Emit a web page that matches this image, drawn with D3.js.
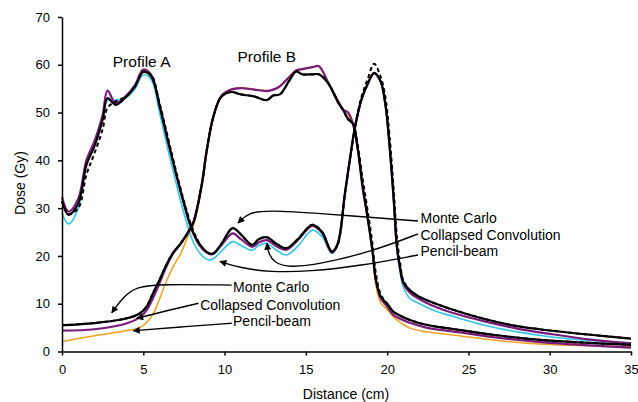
<!DOCTYPE html>
<html><head><meta charset="utf-8">
<script src="https://cdn.jsdelivr.net/npm/d3@7"></script>
<style>
body{margin:0;background:#fff;}
svg text{font-family:"Liberation Sans",Arial,sans-serif;fill:#000;}
</style></head>
<body><svg id="c" width="638" height="402"></svg>
<script>
// ---------- data ----------
const xTicks = [0,5,10,15,20,25,30,35];
const yTicks = [0,10,20,30,40,50,60,70];

// Profile A (distance in cm)
const xA      = [0,0.4,1,1.5,2,2.5,2.8,3.3,4,4.5,5,5.5,6,6.5,7,7.5,8,8.5,9,9.3,9.8,10.5,11,11.7,12.1,12.6,13.2,13.8,14.5,15.4,16,16.6,16.95,17.4,17.7,18.0,18.4,18.8,19.2,19.6,19.9,20.15,20.4,20.6,20.8,21.0,21.4,22,23,24,26,28,30,32.5,35];
const mcA     = [31.5,28.6,31,39,43,48.5,53,51.6,53.5,55.5,58.5,57.5,51.5,44.3,37.4,31,25.5,22.3,20.6,20.5,22.5,25.8,24.5,22.3,23.5,23.9,22.5,21.6,23.5,26.5,25,20.9,22.5,33,40,46.5,52.5,56,58.3,56.5,51.5,43,32,22,17.5,14.5,12.8,11.4,10,8.8,6.8,5.3,4.4,3.5,2.7];
const ccA     = [32.3,29.3,32,40,44,49.5,54.6,52,53.7,55.8,59,57.8,51.5,44.3,37.4,31,25.3,22,20.5,20.4,22.2,24.7,23.5,21.9,22.8,23.3,22,21.3,23.3,26.3,24.8,20.7,22.3,33,40,46.5,52.5,56,58.2,56.5,51.5,43,32,22,17.3,14.2,12.3,10.9,9.3,8.1,6.3,4.8,3.7,2.5,1.7];
const pbA     = [29,26.7,30,39.5,43.5,49,52.6,52.6,53.3,55,57.9,56.8,50,42.5,35.5,29,23.5,20.5,19.2,19.4,21,23,22.2,21.2,22.2,22.6,21.2,20.2,22,25.4,24,20.5,22.3,33,40,46.5,52.5,56,58.2,56.5,51.5,43,32,21.5,16.5,13.5,11.1,10,8.4,7.4,5.5,4.1,3.1,2.3,1.8];
const refA    = [31.5,28.8,30,37,41.5,46.5,51,52.3,53.5,55.7,58.6,57.8,52,45,38,31.5,26,22.4,20.6,20.5,22.5,25.8,24.5,22.3,23.5,23.9,22.5,21.6,23.5,26.5,25,20.9,22.3,33,40,46.5,53,57,60.2,57.5,53,45,34,24,18.5,14.8,12.9,11.4,10,8.8,6.8,5.3,4.4,3.5,2.7];

// Profile B
const xB      = [0,2,4,4.8,5.2,5.6,6.0,6.4,6.8,7.3,7.8,8.1,8.6,8.9,9.3,9.8,10.4,11,11.8,12.6,13,13.4,14,14.4,14.8,15.4,15.8,16.4,17.0,17.3,17.6,17.9,18.2,18.5,18.8,19.1,19.3,19.6,20.0,20.4,21.4,22.4,24.5,26.5,29.6,35];
const mcB     = [5.5,5.95,6.95,8.0,9.4,12.2,15.0,18.0,20.5,22.6,25.2,27.2,35,42,49,53.3,54.3,53.8,53.4,52.6,53.6,53.8,56.8,58.6,58,58,58,56,52,50.5,48.6,47.6,42.2,34.5,28,21,15,11.5,10.0,8.3,6.6,5.6,4.5,3.5,2.4,1.4];
const ccB     = [4.35,4.65,5.9,7.2,8.6,11.2,14.3,17.6,20.3,22.6,25.2,27.2,35,42,49,53.5,54.8,55.1,54.8,54.5,54.8,55.5,57.5,58.8,59.1,59.5,59.7,56.1,52.3,50.6,50.0,47.6,42.2,34,28,21,15.3,11.2,9.4,7.6,6.0,5.0,4.0,3.0,1.9,0.8];
const pbB     = [2.1,3.3,4.4,5.0,6.0,7.8,11.0,14.5,17.5,20.5,24.5,26.5,34.5,42,49,53.5,54.9,55.2,54.9,54.6,54.9,55.6,57.6,58.9,59.2,59.5,59.6,56.1,52.2,50.5,49.3,47.6,42.2,34,28,21,14,10.2,8.8,7.2,4.9,4.15,3.25,2.4,1.5,1.0];
const refB    = [5.5,5.95,6.95,8.0,9.4,12.2,15.0,18.0,20.5,22.6,25.2,27.2,35,42,49,53.3,54.3,53.8,53.4,52.6,53.6,53.8,56.8,58.6,58,58,58,56,52,50.5,48.6,47.8,43,36,29.5,22.5,16.5,12,10.0,8.3,6.6,5.6,4.5,3.5,2.4,1.4];

// Annotations: label, text anchor (cm, Gy), arrow path (cm, Gy)
const noteLabels = ["Monte Carlo","Collapsed Convolution","Pencil-beam","Monte Carlo","Collapsed Convolution","Pencil-beam"];
const noteAnchors = [[22.05,26.9],[22.05,23.3],[22.05,19.9],[10.52,12.4],[8.5,8.6],[10.52,5.25]];
const notePaths = [
  [[21.9,27.3],[15.87,28.9],[12.6,29.6],[11.44,29.0],[10.83,26.9]],
  [[21.9,24.6],[18.95,20.8],[15.75,18.2],[14.02,17.6],[13.04,18.5],[12.67,20.8],[12.61,22.65]],
  [[21.9,20.2],[18.33,17.9],[15.25,16.75],[12.8,16.6],[10.95,17.5],[9.72,18.84]],
  [[10.44,13.9],[6.03,14.1],[4.6,13.56],[3.77,11.47],[3.06,8.1]],
  [[8.39,10.09],[6.52,8.6],[4.6,6.95]],
  [[10.44,5.9],[7.26,5.13],[4.39,4.35]]
];
const profileLabels = ["Profile A","Profile B"];
const profileAnchors = [[4.9,59.5],[12.6,60.5]];

// ---------- drawing ----------
const svg = d3.select("#c");
const x = d3.scaleLinear().domain([0,35]).range([62,631]);
const y = d3.scaleLinear().domain([0,70]).range([351.5,17]);

svg.append("defs").append("marker")
  .attr("id","ah").attr("viewBox","0 0 10 10").attr("refX",9).attr("refY",5)
  .attr("markerWidth",9).attr("markerHeight",7).attr("markerUnits","userSpaceOnUse")
  .attr("orient","auto")
  .append("path").attr("d","M0,0L10,5L0,10z").attr("fill","#000");

const line = d3.line().x(d=>x(d[0])).y(d=>y(d[1])).curve(d3.curveCatmullRom.alpha(0.5));
const series = [
  {xs:xB, ys:pbB, color:"#f0a020", w:1.5},
  {xs:xA, ys:pbA, color:"#30c4ea", w:1.6},
  {xs:xA, ys:ccA, color:"#7a1a7a", w:2.2},
  {xs:xB, ys:ccB, color:"#7a1a7a", w:2.2},
  {xs:xA, ys:mcA, color:"#000", w:2.2},
  {xs:xB, ys:mcB, color:"#000", w:2.2},
  {xs:xA, ys:refA, color:"#000", w:2.0, dash:"4,3"},
  {xs:xB, ys:refB, color:"#000", w:2.0, dash:"4,3"}
];
series.forEach(s=>{
  svg.append("path").attr("d", line(s.xs.map((v,i)=>[v,s.ys[i]])))
    .attr("fill","none").attr("stroke",s.color).attr("stroke-width",s.w)
    .attr("stroke-dasharray",s.dash||null).attr("stroke-linejoin","round");
});

// axes
const xAxis = d3.axisBottom(x).tickValues(xTicks).tickSize(4).tickSizeOuter(0).tickPadding(9);
const yAxis = d3.axisLeft(y).tickValues(yTicks).tickSize(4).tickSizeOuter(0).tickPadding(8);
const gx = svg.append("g").attr("transform","translate(0,351.5)").call(xAxis);
const gy = svg.append("g").attr("transform","translate(62,0)").call(yAxis);
[gx,gy].forEach(g=>{
  g.selectAll("path").attr("stroke","#000").attr("stroke-width",1.5);
  g.selectAll("line").attr("stroke","#000").attr("stroke-width",1.5);
  g.selectAll("text").attr("font-size",13).attr("font-family","Liberation Sans, Arial, sans-serif").attr("fill","#000");
});

svg.append("text").attr("x",346).attr("y",399).attr("text-anchor","middle").attr("font-size",14).text("Distance (cm)");
svg.append("text").attr("transform","translate(25,183) rotate(-90)").attr("text-anchor","middle").attr("font-size",14).text("Dose (Gy)");

profileLabels.forEach((t,i)=>{
  svg.append("text").attr("x",x(profileAnchors[i][0])).attr("y",y(profileAnchors[i][1]))
    .attr("text-anchor","middle").attr("font-size",15.5).text(t);
});

const nline = d3.line().x(d=>x(d[0])).y(d=>y(d[1])).curve(d3.curveBasis);
notePaths.forEach(p=>{
  svg.append("path").attr("d",nline(p)).attr("fill","none").attr("stroke","#000")
    .attr("stroke-width",1.4).attr("marker-end","url(#ah)");
});
noteLabels.forEach((t,i)=>{
  svg.append("text").attr("x",x(noteAnchors[i][0])).attr("y",y(noteAnchors[i][1]))
    .attr("font-size",14).text(t);
});
</script></body></html>
